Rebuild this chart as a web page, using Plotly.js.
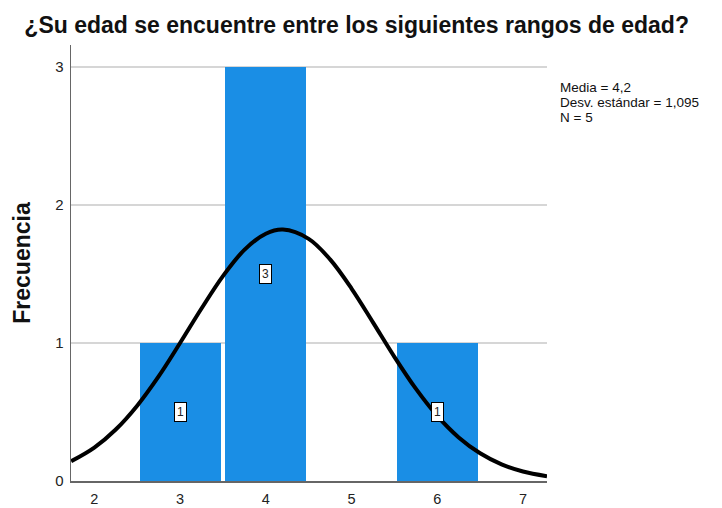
<!DOCTYPE html>
<html>
<head>
<meta charset="utf-8">
<script src="https://cdn.plot.ly/plotly-3.0.1.min.js"></script>
<style>html,body{margin:0;padding:0;background:#fff;}#chart{width:722px;height:508px;}</style>
</head>
<body>
<div id="chart"></div>
<script>
// Histogram bins (category value) and frequencies
const binCenters = [3, 4, 6];
const frequencies = [1, 3, 1];
// Normal curve
const curveX = [1.73, 2, 2.25, 2.5, 2.75, 3, 3.25, 3.5, 3.75, 4, 4.2, 4.5, 4.75, 5, 5.25, 5.5, 5.75, 6, 6.25, 6.5, 6.75, 7, 7.28];
const curveY = [0.143, 0.242, 0.373, 0.546, 0.758, 1.0, 1.25, 1.485, 1.675, 1.792, 1.822, 1.755, 1.606, 1.395, 1.15, 0.9, 0.669, 0.472, 0.316, 0.201, 0.121, 0.069, 0.035];
const xTicks = [2, 3, 4, 5, 6, 7];
const yTicks = [0, 1, 2, 3];
const statsLines = ["Media = 4,2", "Desv. estándar = 1,095", "N = 5"];
const titleText = "¿Su edad se encuentre entre los siguientes rangos de edad?";
const yTitle = "Frecuencia";

const FONT = "Arial, 'Liberation Sans', sans-serif";
const BLUE = "#1a8ee5";

const traces = [
  {
    type: "bar", x: binCenters, y: frequencies, width: 0.945,
    marker: {color: BLUE, line: {width: 0}}, hoverinfo: "x+y", showlegend: false
  },
  {
    type: "scatter", mode: "lines", x: curveX, y: curveY,
    line: {color: "#000", width: 4, shape: "spline"}, showlegend: false, hoverinfo: "skip"
  }
];

const annotations = binCenters.map((c, i) => ({
  x: c, y: frequencies[i] / 2, xref: "x", yref: "y", text: String(frequencies[i]),
  showarrow: false, bgcolor: "#fff", bordercolor: "#000", borderwidth: 1, borderpad: 2,
  font: {family: FONT, size: 12, color: "#222"}
}));
// stats text, one line per annotation for tight line spacing
const statsTop = 0.903, statsStep = 0.035;
statsLines.forEach((s, i) => annotations.push({
  xref: "paper", yref: "paper", x: 1.026, y: statsTop - i * statsStep, xanchor: "left", yanchor: "middle",
  align: "left", showarrow: false, text: s, borderpad: 0,
  font: {family: FONT, size: 13.5, color: "#111"}
}));

const layout = {
  width: 722, height: 508,
  margin: {l: 71, r: 175, t: 45, b: 27},
  paper_bgcolor: "#fff", plot_bgcolor: "#fff",
  title: {text: "<b>" + titleText + "</b>", x: 0.494, xanchor: "center", y: 0.951, yanchor: "middle",
    font: {family: FONT, size: 23, color: "#111"}},
  xaxis: {
    range: [1.728, 7.28], tickvals: xTicks, ticktext: xTicks.map(String),
    showgrid: false, zeroline: false, showline: true, linecolor: "#666", linewidth: 1.5,
    ticks: "outside", ticklen: 4, tickcolor: "rgba(0,0,0,0)",
    tickfont: {family: FONT, size: 14.5, color: "#222"}
  },
  yaxis: {
    range: [0, 3.16], tickvals: yTicks, ticktext: yTicks.map(String),
    showgrid: true, gridcolor: "#d6d6d6", gridwidth: 2, zeroline: false,
    showline: true, linecolor: "#666", linewidth: 1.5,
    ticks: "outside", ticklen: 3, tickcolor: "rgba(0,0,0,0)",
    tickfont: {family: FONT, size: 15, color: "#222"},
    title: {text: "<b>" + yTitle + "</b>", standoff: 18, font: {family: FONT, size: 23, color: "#111"}}
  },
  annotations: annotations,
  bargap: 0
};

Plotly.newPlot("chart", traces, layout, {displayModeBar: false, staticPlot: true});
</script>
</body>
</html>
